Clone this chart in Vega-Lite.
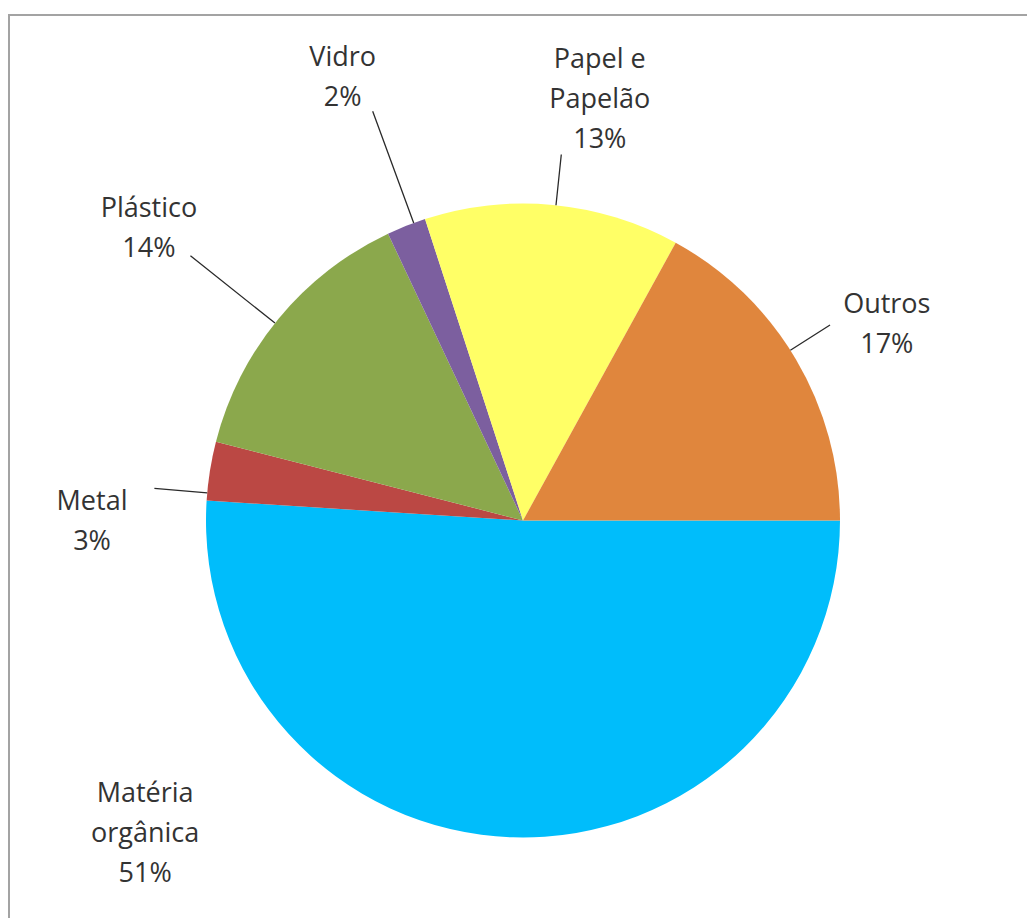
{
  "$schema": "https://vega.github.io/schema/vega-lite/v6.json",
  "width": 1028,
  "height": 1011,
  "autosize": {"type": "none"},
  "padding": {"left": 9, "top": 15, "right": -10, "bottom": -108},
  "background": "white",
  "config": {"view": {"stroke": null}},
  "data": {"values": [
    {"categoria": "Matéria orgânica", "valor": 51, "ordem": 1, "rotulo": "Matéria\norgânica\n51%"},
    {"categoria": "Metal", "valor": 3, "ordem": 2, "rotulo": "Metal\n3%"},
    {"categoria": "Plástico", "valor": 14, "ordem": 3, "rotulo": "Plástico\n14%"},
    {"categoria": "Vidro", "valor": 2, "ordem": 4, "rotulo": "Vidro\n2%"},
    {"categoria": "Papel e Papelão", "valor": 13, "ordem": 5, "rotulo": "Papel e\nPapelão\n13%"},
    {"categoria": "Outros", "valor": 17, "ordem": 6, "rotulo": "Outros\n17%"}
  ]},
  "transform": [
    {"stack": "valor", "groupby": [], "sort": [{"field": "ordem", "order": "ascending"}], "as": ["v0", "v1"]}
  ],
  "layer": [
    {
      "transform": [{"filter": "datum.ordem === 1"}],
      "mark": {"type": "rect", "filled": false, "stroke": "#a3a3a3", "strokeWidth": 2},
      "encoding": {}
    },
    {
      "mark": {"type": "arc", "radius": 317, "stroke": null},
      "encoding": {
        "theta": {"field": "v0", "type": "quantitative", "stack": null, "scale": {"domain": [0, 100], "range": [1.5707963, 7.8539816]}},
        "theta2": {"field": "v1"},
        "color": {
          "field": "categoria", "type": "nominal", "legend": null,
          "scale": {
            "domain": ["Matéria orgânica", "Metal", "Plástico", "Vidro", "Papel e Papelão", "Outros"],
            "range": ["#00bdfb", "#bb4844", "#8ba84c", "#7c5f9f", "#ffff66", "#e0863d"]
          }
        }
      }
    },
    {
      "transform": [{"filter": "datum.categoria === 'Metal'"}],
      "mark": {"type": "arc", "radius": 370, "radius2": 317, "padAngle": 3, "thetaOffset": -0.07, "theta2Offset": -0.07, "filled": false, "stroke": "#2a2a2a", "strokeWidth": 1.3},
      "encoding": {"theta": {"field": "v0", "type": "quantitative", "stack": null}, "theta2": {"field": "v1"}}
    },
    {
      "transform": [{"filter": "datum.categoria === 'Plástico'"}],
      "mark": {"type": "arc", "radius": 425, "radius2": 317, "padAngle": 3, "thetaOffset": -0.019, "theta2Offset": -0.019, "filled": false, "stroke": "#2a2a2a", "strokeWidth": 1.3},
      "encoding": {"theta": {"field": "v0", "type": "quantitative", "stack": null}, "theta2": {"field": "v1"}}
    },
    {
      "transform": [{"filter": "datum.categoria === 'Vidro'"}],
      "mark": {"type": "arc", "radius": 436, "radius2": 317, "padAngle": 3, "thetaOffset": 0.025, "theta2Offset": 0.025, "filled": false, "stroke": "#2a2a2a", "strokeWidth": 1.3},
      "encoding": {"theta": {"field": "v0", "type": "quantitative", "stack": null}, "theta2": {"field": "v1"}}
    },
    {
      "transform": [{"filter": "datum.categoria === 'Papel e Papelão'"}],
      "mark": {"type": "arc", "radius": 368, "radius2": 317, "padAngle": 3, "thetaOffset": 0.01, "theta2Offset": 0.01, "filled": false, "stroke": "#2a2a2a", "strokeWidth": 1.3},
      "encoding": {"theta": {"field": "v0", "type": "quantitative", "stack": null}, "theta2": {"field": "v1"}}
    },
    {
      "transform": [{"filter": "datum.categoria === 'Outros'"}],
      "mark": {"type": "arc", "radius": 364, "radius2": 317, "padAngle": 3, "thetaOffset": -0.033, "theta2Offset": -0.033, "filled": false, "stroke": "#2a2a2a", "strokeWidth": 1.3},
      "encoding": {"theta": {"field": "v0", "type": "quantitative", "stack": null}, "theta2": {"field": "v1"}}
    },
    {
      "transform": [{"filter": "datum.categoria === 'Matéria orgânica'"}],
      "mark": {"type": "text", "radius": 491, "thetaOffset": 2.449, "dy": -40, "font": "Open Sans", "fontSize": 27, "lineHeight": 40, "lineBreak": "\n", "align": "center", "baseline": "middle", "color": "#333333"},
      "encoding": {"theta": {"field": "v0", "type": "quantitative", "stack": null}, "text": {"field": "rotulo"}}
    },
    {
      "transform": [{"filter": "datum.categoria === 'Metal'"}],
      "mark": {"type": "text", "radius": 431, "thetaOffset": -0.066, "dy": -20, "font": "Open Sans", "fontSize": 27, "lineHeight": 40, "lineBreak": "\n", "align": "center", "baseline": "middle", "color": "#333333"},
      "encoding": {"theta": {"field": "v0", "type": "quantitative", "stack": null}, "text": {"field": "rotulo"}}
    },
    {
      "transform": [{"filter": "datum.categoria === 'Plástico'"}],
      "mark": {"type": "text", "radius": 474, "thetaOffset": 0.41, "dy": -20, "font": "Open Sans", "fontSize": 27, "lineHeight": 40, "lineBreak": "\n", "align": "center", "baseline": "middle", "color": "#333333"},
      "encoding": {"theta": {"field": "v0", "type": "quantitative", "stack": null}, "text": {"field": "rotulo"}}
    },
    {
      "transform": [{"filter": "datum.categoria === 'Vidro'"}],
      "mark": {"type": "text", "radius": 478, "thetaOffset": 0.053, "dy": -20, "font": "Open Sans", "fontSize": 27, "lineHeight": 40, "lineBreak": "\n", "align": "center", "baseline": "middle", "color": "#333333"},
      "encoding": {"theta": {"field": "v0", "type": "quantitative", "stack": null}, "text": {"field": "rotulo"}}
    },
    {
      "transform": [{"filter": "datum.categoria === 'Papel e Papelão'"}],
      "mark": {"type": "text", "radius": 427, "thetaOffset": 0.495, "dy": -40, "font": "Open Sans", "fontSize": 27, "lineHeight": 40, "lineBreak": "\n", "align": "center", "baseline": "middle", "color": "#333333"},
      "encoding": {"theta": {"field": "v0", "type": "quantitative", "stack": null}, "text": {"field": "rotulo"}}
    },
    {
      "transform": [{"filter": "datum.categoria === 'Outros'"}],
      "mark": {"type": "text", "radius": 413, "thetaOffset": 0.575, "dy": -20, "font": "Open Sans", "fontSize": 27, "lineHeight": 40, "lineBreak": "\n", "align": "center", "baseline": "middle", "color": "#333333"},
      "encoding": {"theta": {"field": "v0", "type": "quantitative", "stack": null}, "text": {"field": "rotulo"}}
    }
  ]
}
